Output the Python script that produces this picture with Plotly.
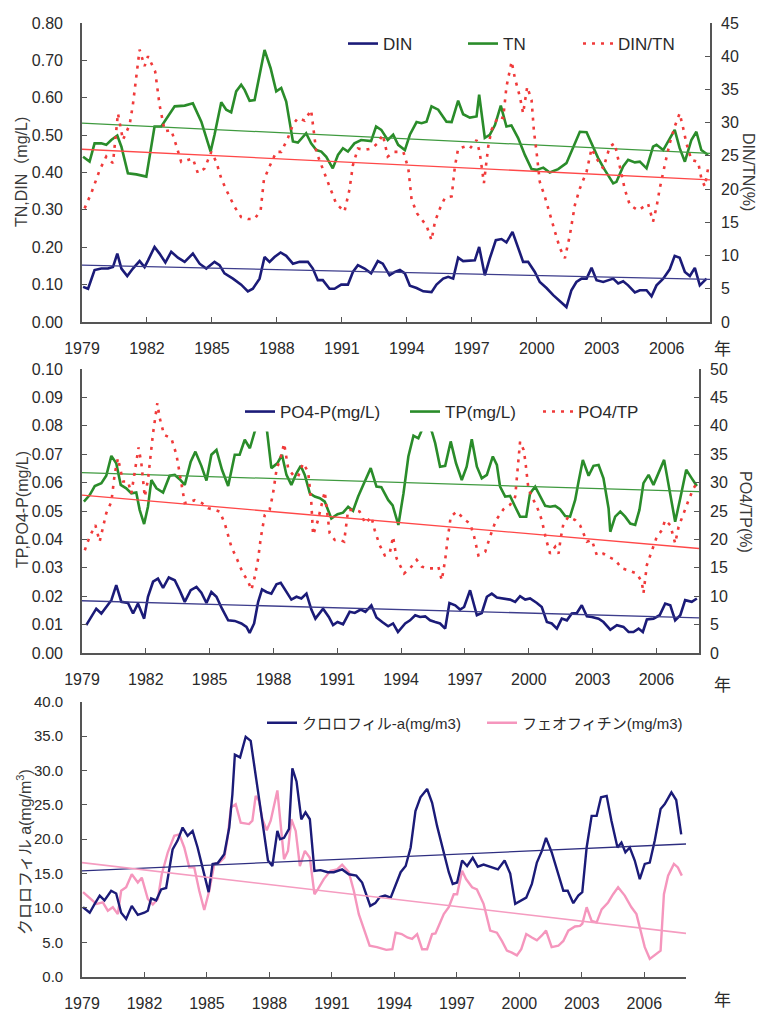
import plotly.graph_objects as go

# ---------------- Panel 1: nitrogen ----------------
din_year = [1979.05, 1979.28, 1979.58, 1979.89, 1980.2, 1980.43, 1980.63, 1980.82, 1981.09, 1981.35,
            1981.66, 1981.89, 1982.05, 1982.35, 1982.58, 1982.85, 1983.12, 1983.43, 1983.74, 1984.12,
            1984.43, 1984.74, 1985.12, 1985.35, 1985.58, 1985.97, 1986.35, 1986.66, 1986.89, 1987.2,
            1987.43, 1987.66, 1987.89, 1988.17, 1988.43, 1988.74, 1989.05, 1989.43, 1989.66, 1989.89,
            1990.12, 1990.43, 1990.66, 1990.97, 1991.28, 1991.51, 1991.74, 1992.05, 1992.35, 1992.66,
            1992.89, 1993.2, 1993.45, 1993.68, 1993.91, 1994.14, 1994.45, 1994.76, 1995.14, 1995.37,
            1995.68, 1995.91, 1996.14, 1996.37, 1996.6, 1996.91, 1997.14, 1997.34, 1997.6, 1997.83,
            1998.11, 1998.37, 1998.6, 1998.88, 1999.14, 1999.37, 1999.6, 1999.91, 2000.14, 2000.45,
            2000.76, 2001.07, 2001.37, 2001.6, 2001.83, 2002.07, 2002.3, 2002.53, 2002.76, 2003.07,
            2003.37, 2003.53, 2003.76, 2003.99, 2004.22, 2004.53, 2004.76, 2005.07, 2005.3, 2005.53,
            2005.84, 2006.14, 2006.37, 2006.6, 2006.84, 2007.07, 2007.3, 2007.53, 2007.84]
din_val = [0.094, 0.089, 0.139, 0.143, 0.143, 0.147, 0.183, 0.143, 0.123, 0.143,
           0.163, 0.147, 0.165, 0.201, 0.183, 0.159, 0.188, 0.172, 0.161, 0.183,
           0.156, 0.143, 0.161, 0.152, 0.130, 0.116, 0.100, 0.082, 0.089, 0.116,
           0.174, 0.161, 0.174, 0.186, 0.177, 0.156, 0.161, 0.161, 0.143, 0.112,
           0.112, 0.089, 0.089, 0.100, 0.100, 0.134, 0.152, 0.143, 0.130, 0.163,
           0.156, 0.125, 0.134, 0.139, 0.130, 0.097, 0.091, 0.082, 0.080, 0.100,
           0.116, 0.121, 0.116, 0.172, 0.163, 0.163, 0.165, 0.201, 0.125, 0.170,
           0.219, 0.222, 0.213, 0.241, 0.197, 0.161, 0.161, 0.134, 0.107, 0.091,
           0.072, 0.055, 0.040, 0.085, 0.107, 0.116, 0.116, 0.145, 0.112, 0.107,
           0.112, 0.116, 0.103, 0.109, 0.098, 0.079, 0.085, 0.085, 0.069, 0.098,
           0.116, 0.141, 0.177, 0.172, 0.134, 0.123, 0.145, 0.098, 0.116]

tn_year = [1979.05, 1979.35, 1979.58, 1979.89, 1980.12, 1980.35, 1980.63, 1980.82, 1981.12, 1981.51,
           1981.97, 1982.35, 1982.66, 1982.97, 1983.28, 1983.74, 1984.12, 1984.51, 1984.94, 1985.12,
           1985.43, 1985.66, 1985.89, 1986.12, 1986.35, 1986.51, 1986.74, 1986.97, 1987.43, 1987.71,
           1987.97, 1988.2, 1988.43, 1988.74, 1988.97, 1989.35, 1989.58, 1989.82, 1990.05, 1990.28,
           1990.58, 1990.82, 1991.05, 1991.28, 1991.58, 1991.89, 1992.35, 1992.58, 1992.82, 1993.12,
           1993.37, 1993.6, 1993.91, 1994.14, 1994.45, 1994.68, 1994.91, 1995.14, 1995.45, 1995.83,
           1996.07, 1996.37, 1996.6, 1996.91, 1997.22, 1997.34, 1997.6, 1997.83, 1998.07, 1998.34,
           1998.6, 1998.83, 1999.14, 1999.45, 1999.76, 1999.99, 2000.3, 2000.6, 2000.99, 2001.37,
           2001.68, 2001.99, 2002.3, 2002.53, 2002.84, 2003.14, 2003.53, 2003.68, 2003.99, 2004.22,
           2004.53, 2004.76, 2005.07, 2005.37, 2005.53, 2005.84, 2006.14, 2006.37, 2006.6, 2006.84,
           2007.14, 2007.37, 2007.6, 2007.91]
tn_val = [0.442, 0.429, 0.478, 0.478, 0.474, 0.487, 0.499, 0.469, 0.398, 0.395,
          0.389, 0.523, 0.523, 0.550, 0.577, 0.579, 0.585, 0.536, 0.456, 0.501,
          0.588, 0.568, 0.561, 0.617, 0.635, 0.621, 0.592, 0.594, 0.728, 0.679,
          0.617, 0.626, 0.590, 0.483, 0.480, 0.505, 0.478, 0.460, 0.456, 0.442,
          0.411, 0.447, 0.465, 0.456, 0.478, 0.487, 0.484, 0.523, 0.514, 0.487,
          0.501, 0.474, 0.460, 0.501, 0.535, 0.532, 0.536, 0.577, 0.568, 0.536,
          0.535, 0.592, 0.556, 0.547, 0.550, 0.608, 0.493, 0.501, 0.527, 0.579,
          0.523, 0.526, 0.492, 0.447, 0.409, 0.407, 0.413, 0.400, 0.409, 0.425,
          0.465, 0.509, 0.508, 0.478, 0.438, 0.407, 0.371, 0.375, 0.416, 0.434,
          0.427, 0.429, 0.411, 0.469, 0.474, 0.460, 0.492, 0.514, 0.465, 0.429,
          0.487, 0.509, 0.460, 0.447]

dintn_year = [1979.12, 1979.43, 1979.82, 1980.12, 1980.43, 1980.66, 1980.89, 1981.2, 1981.35, 1981.58,
              1981.66, 1981.89, 1982.05, 1982.38, 1982.58, 1982.82, 1983.12, 1983.35, 1983.58, 1983.89,
              1984.12, 1984.35, 1984.66, 1984.97, 1985.2, 1985.43, 1985.66, 1986.05, 1986.35, 1986.66,
              1986.97, 1987.25, 1987.4, 1987.66, 1987.97, 1988.2, 1988.51, 1988.74, 1988.97, 1989.28,
              1989.58, 1989.82, 1990.12, 1990.43, 1990.74, 1991.12, 1991.35, 1991.51, 1991.74, 1992.05,
              1992.35, 1992.66, 1992.89, 1993.12, 1993.4, 1993.84, 1994.07, 1994.22, 1994.48, 1994.91,
              1995.14, 1995.3, 1995.53, 1995.76, 1996.07, 1996.22, 1996.37, 1996.68, 1996.91, 1997.22,
              1997.37, 1997.56, 1997.76, 1997.91, 1998.22, 1998.45, 1998.6, 1998.84, 1998.99, 1999.22,
              1999.37, 1999.56, 1999.76, 1999.87, 1999.99, 2000.14, 2000.37, 2000.6, 2000.84, 2001.07,
              2001.3, 2001.53, 2001.76, 2001.99, 2002.3, 2002.53, 2002.76, 2003.07, 2003.37, 2003.6,
              2003.76, 2004.07, 2004.3, 2004.68, 2005.14, 2005.37, 2005.53, 2005.68, 2005.91, 2006.14,
              2006.37, 2006.6, 2006.76, 2006.91, 2007.14, 2007.45, 2007.6, 2007.76, 2007.91]
dintn_val = [17.1, 19.4, 22.9, 24.9, 23.9, 31.4, 27.4, 29.7, 32.7, 39.5,
             41.0, 38.5, 40.0, 37.7, 32.7, 28.7, 28.9, 26.6, 24.1, 24.4,
             24.6, 22.4, 23.1, 25.6, 24.1, 21.6, 19.9, 17.3, 15.8, 15.5,
             15.5, 16.8, 21.4, 23.4, 25.6, 25.6, 27.7, 29.7, 30.7, 30.3,
             31.9, 25.6, 22.9, 20.4, 17.8, 16.6, 19.9, 23.6, 26.1, 25.9,
             26.1, 26.9, 28.2, 24.9, 25.6, 25.6, 23.1, 18.4, 16.3, 14.5,
             12.3, 15.1, 17.1, 18.7, 18.9, 23.4, 26.1, 26.4, 26.1, 27.4,
             25.4, 20.9, 26.4, 28.9, 30.9, 30.7, 35.4, 39.2, 36.7, 33.9,
             31.4, 35.4, 33.4, 28.7, 25.6, 21.1, 18.9, 16.1, 13.6, 11.1,
             9.6, 13.1, 17.6, 20.1, 22.6, 26.1, 24.6, 23.1, 26.4, 26.9,
             24.4, 19.9, 17.6, 16.8, 17.8, 15.1, 17.3, 20.1, 23.6, 26.9,
             29.4, 31.4, 29.2, 26.9, 24.4, 24.1, 21.6, 20.4, 23.1]

# straight trend lines (start / end of the period)
trend_year = [1979.0, 2008.0]
din_trend = [0.152, 0.114]
tn_trend = [0.532, 0.451]
dintn_trend = [26.0, 21.4]

# ---------------- Panel 2: phosphorus ----------------
po4_year = [1979.2, 1979.44, 1979.67, 1979.91, 1980.14, 1980.38, 1980.61, 1980.85, 1981.16, 1981.4,
            1981.63, 1981.92, 1982.1, 1982.34, 1982.57, 1982.81, 1983.08, 1983.36, 1983.59, 1983.83,
            1984.11, 1984.38, 1984.61, 1984.85, 1985.08, 1985.32, 1985.58, 1985.87, 1986.18, 1986.49,
            1986.73, 1986.88, 1987.09, 1987.28, 1987.46, 1987.67, 1987.9, 1988.14, 1988.34, 1988.61,
            1988.84, 1989.08, 1989.31, 1989.55, 1989.78, 1989.97, 1990.33, 1990.6, 1990.8, 1991.01,
            1991.27, 1991.58, 1991.82, 1992.1, 1992.32, 1992.6, 1992.84, 1993.11, 1993.39, 1993.62,
            1993.85, 1994.19, 1994.42, 1994.66, 1994.89, 1995.13, 1995.36, 1995.6, 1995.83, 1996.07,
            1996.27, 1996.54, 1996.77, 1996.96, 1997.24, 1997.56, 1997.79, 1998.03, 1998.26, 1998.5,
            1998.81, 1999.12, 1999.36, 1999.59, 1999.83, 2000.06, 2000.38, 2000.61, 2000.85, 2001.08,
            2001.32, 2001.55, 2001.79, 2002.02, 2002.26, 2002.49, 2002.73, 2002.96, 2003.28, 2003.51,
            2003.83, 2004.14, 2004.45, 2004.69, 2004.92, 2005.16, 2005.36, 2005.55, 2005.86, 2006.15,
            2006.41, 2006.65, 2006.88, 2007.12, 2007.35, 2007.66, 2007.9]
po4_val = [0.0098, 0.0129, 0.0156, 0.0139, 0.0162, 0.0186, 0.0239, 0.0180, 0.0176, 0.0139,
           0.0174, 0.0121, 0.0198, 0.0251, 0.0262, 0.0229, 0.0266, 0.0256, 0.0221, 0.0180,
           0.0221, 0.0233, 0.0212, 0.0176, 0.0215, 0.0198, 0.0156, 0.0115, 0.0113, 0.0104,
           0.0092, 0.0071, 0.0104, 0.0180, 0.0224, 0.0215, 0.0209, 0.0242, 0.0247, 0.0215,
           0.0188, 0.0198, 0.0192, 0.0209, 0.0153, 0.0121, 0.0156, 0.0127, 0.0098, 0.0109,
           0.0101, 0.0145, 0.0141, 0.0153, 0.0145, 0.0168, 0.0125, 0.0109, 0.0094, 0.0104,
           0.0074, 0.0104, 0.0115, 0.0133, 0.0127, 0.0129, 0.0115, 0.0109, 0.0104, 0.0086,
           0.0176, 0.0168, 0.0153, 0.0162, 0.0221, 0.0133, 0.0141, 0.0198, 0.0209, 0.0195,
           0.0192, 0.0188, 0.0180, 0.0200, 0.0188, 0.0192, 0.0176, 0.0162, 0.0109, 0.0104,
           0.0086, 0.0121, 0.0115, 0.0139, 0.0141, 0.0168, 0.0129, 0.0127, 0.0121, 0.0109,
           0.0082, 0.0098, 0.0092, 0.0074, 0.0074, 0.0086, 0.0074, 0.0118, 0.0121, 0.0133,
           0.0174, 0.0168, 0.0115, 0.0133, 0.0186, 0.0180, 0.0192]

tp_year = [1979.09, 1979.36, 1979.6, 1979.91, 1980.14, 1980.38, 1980.61, 1980.82, 1981.08, 1981.32,
           1981.55, 1981.71, 1981.92, 1982.1, 1982.26, 1982.5, 1982.81, 1983.12, 1983.36, 1983.59,
           1983.83, 1984.11, 1984.33, 1984.61, 1984.85, 1985.08, 1985.32, 1985.58, 1985.87, 1986.18,
           1986.41, 1986.65, 1986.89, 1987.12, 1987.4, 1987.7, 1987.9, 1988.18, 1988.4, 1988.61,
           1988.84, 1989.08, 1989.28, 1989.47, 1989.71, 1989.94, 1990.18, 1990.41, 1990.72, 1991.01,
           1991.27, 1991.51, 1991.74, 1991.98, 1992.29, 1992.57, 1992.84, 1993.07, 1993.39, 1993.6,
           1993.87, 1994.11, 1994.34, 1994.58, 1994.81, 1994.97, 1995.2, 1995.44, 1995.6, 1995.83,
           1996.07, 1996.33, 1996.58, 1996.85, 1997.08, 1997.32, 1997.56, 1997.79, 1998.03, 1998.31,
           1998.5, 1998.65, 1998.89, 1999.12, 1999.36, 1999.59, 1999.88, 2000.06, 2000.3, 2000.53,
           2000.77, 2001.0, 2001.24, 2001.47, 2001.71, 2001.94, 2002.18, 2002.34, 2002.54, 2002.81,
           2003.04, 2003.28, 2003.51, 2003.75, 2003.83, 2004.06, 2004.3, 2004.53, 2004.77, 2005.0,
           2005.2, 2005.39, 2005.63, 2005.86, 2006.15, 2006.36, 2006.57, 2006.88, 2007.12, 2007.4,
           2007.66, 2007.9]
tp_val = [0.0533, 0.0556, 0.0588, 0.0598, 0.0624, 0.0694, 0.0668, 0.0592, 0.0580, 0.0562,
          0.0565, 0.0504, 0.0454, 0.0515, 0.0609, 0.0580, 0.0565, 0.0624, 0.0627, 0.0612,
          0.0592, 0.0674, 0.0709, 0.0659, 0.0607, 0.0698, 0.0715, 0.0645, 0.0588, 0.0698,
          0.0698, 0.0751, 0.0721, 0.0780, 0.0830, 0.0780, 0.0651, 0.0668, 0.0698, 0.0627,
          0.0592, 0.0633, 0.0659, 0.0627, 0.0562, 0.0551, 0.0545, 0.0533, 0.0474, 0.0489,
          0.0494, 0.0515, 0.0501, 0.0551, 0.0604, 0.0651, 0.0586, 0.0584, 0.0539, 0.0520,
          0.0451, 0.0562, 0.0692, 0.0765, 0.0756, 0.0784, 0.0810, 0.0780, 0.0739, 0.0656,
          0.0659, 0.0745, 0.0668, 0.0609, 0.0656, 0.0753, 0.0656, 0.0615, 0.0627, 0.0692,
          0.0662, 0.0586, 0.0551, 0.0553, 0.0515, 0.0480, 0.0480, 0.0562, 0.0586, 0.0551,
          0.0518, 0.0515, 0.0518, 0.0506, 0.0482, 0.0480, 0.0539, 0.0604, 0.0680, 0.0624,
          0.0659, 0.0662, 0.0615, 0.0509, 0.0427, 0.0480, 0.0498, 0.0480, 0.0456, 0.0451,
          0.0504, 0.0598, 0.0627, 0.0592, 0.0645, 0.0680, 0.0592, 0.0462, 0.0545, 0.0645,
          0.0615, 0.0588]

po4tp_year = [1979.13, 1979.36, 1979.63, 1979.83, 1980.14, 1980.38, 1980.54, 1980.69, 1980.93, 1981.16,
              1981.32, 1981.55, 1981.66, 1981.79, 1981.95, 1982.1, 1982.34, 1982.54, 1982.65, 1982.86,
              1983.2, 1983.44, 1983.59, 1983.83, 1984.06, 1984.3, 1984.64, 1984.92, 1985.24, 1985.47,
              1985.71, 1986.02, 1986.3, 1986.57, 1986.8, 1986.96, 1987.12, 1987.28, 1987.4, 1987.59,
              1987.82, 1987.98, 1988.14, 1988.37, 1988.5, 1988.69, 1988.97, 1989.16, 1989.39, 1989.63,
              1989.78, 1989.86, 1990.07, 1990.25, 1990.41, 1990.64, 1990.88, 1991.12, 1991.32, 1991.51,
              1991.79, 1992.05, 1992.32, 1992.6, 1992.76, 1992.99, 1993.23, 1993.46, 1993.62, 1993.79,
              1993.95, 1994.14, 1994.42, 1994.73, 1994.97, 1995.28, 1995.52, 1995.75, 1995.91, 1996.07,
              1996.18, 1996.33, 1996.61, 1997.01, 1997.24, 1997.43, 1997.63, 1997.95, 1998.18, 1998.46,
              1998.81, 1999.12, 1999.36, 1999.47, 1999.59, 1999.75, 1999.83, 1999.98, 2000.14, 2000.38,
              2000.61, 2000.82, 2001.0, 2001.24, 2001.4, 2001.5, 2001.63, 2001.87, 2002.18, 2002.41,
              2002.73, 2002.96, 2003.2, 2003.51, 2003.75, 2004.06, 2004.37, 2004.64, 2005.08, 2005.31,
              2005.39, 2005.55, 2005.79, 2006.02, 2006.25, 2006.41, 2006.65, 2006.88, 2007.04, 2007.27,
              2007.51, 2007.74, 2007.9]
po4tp_val = [18.1, 20.5, 22.5, 19.6, 24.6, 26.6, 31.6, 34.3, 30.2, 30.2,
             28.1, 33.7, 36.2, 33.4, 27.5, 30.5, 38.7, 44.0, 41.4, 38.4,
             37.8, 34.9, 31.6, 26.4, 26.6, 26.9, 26.4, 25.5, 25.2, 24.9,
             22.8, 18.7, 16.4, 14.0, 12.7, 11.1, 13.4, 16.6, 20.2, 24.3,
             25.2, 28.1, 32.2, 34.9, 36.9, 32.5, 31.1, 31.1, 33.4, 31.9,
             26.4, 20.8, 23.1, 25.8, 28.4, 21.1, 19.9, 19.9, 19.6, 25.2,
             25.2, 24.9, 22.8, 24.0, 21.6, 19.0, 17.2, 17.5, 20.5, 16.6,
             15.3, 14.0, 14.9, 16.4, 15.2, 14.9, 14.9, 15.2, 12.8, 16.4,
             19.9, 24.0, 24.9, 23.4, 22.8, 20.5, 17.2, 17.8, 20.5, 23.4,
             25.3, 26.1, 27.5, 31.6, 37.2, 35.8, 34.0, 29.0, 27.5, 25.8,
             23.4, 19.9, 17.5, 18.7, 17.5, 20.2, 22.8, 24.0, 23.4, 22.5,
             19.6, 19.9, 17.2, 17.5, 16.9, 16.4, 14.9, 14.6, 14.0, 12.5,
             10.5, 15.5, 18.1, 20.5, 21.6, 23.4, 22.5, 19.3, 22.2, 24.6,
             26.9, 29.0, 29.9]

po4_trend = [0.0184, 0.0124]
tp_trend = [0.0635, 0.0568]
po4tp_trend = [27.8, 18.4]

# ---------------- Panel 3: chlorophyll-a / phaeophytin ----------------
chl_year = [1979.05, 1979.37, 1979.61, 1979.85, 1980.08, 1980.4, 1980.64, 1980.88, 1981.12, 1981.39,
            1981.68, 1981.99, 1982.16, 1982.32, 1982.56, 1982.8, 1983.04, 1983.19, 1983.35, 1983.59,
            1983.83, 1984.07, 1984.31, 1984.55, 1984.79, 1985.08, 1985.27, 1985.51, 1985.83, 1986.07,
            1986.22, 1986.34, 1986.59, 1986.86, 1987.1, 1987.34, 1987.55, 1987.74, 1987.93, 1988.14,
            1988.38, 1988.51, 1988.7, 1988.94, 1989.1, 1989.3, 1989.53, 1989.73, 1989.94, 1990.16,
            1990.45, 1990.8, 1991.09, 1991.49, 1991.81, 1992.17, 1992.45, 1992.84, 1993.08, 1993.3,
            1993.55, 1993.82, 1994.06, 1994.3, 1994.54, 1994.78, 1995.01, 1995.25, 1995.57, 1995.81,
            1996.05, 1996.37, 1996.61, 1996.8, 1997.01, 1997.25, 1997.49, 1997.76, 1998.0, 1998.28,
            1998.6, 1998.97, 1999.29, 1999.56, 1999.8, 2000.04, 2000.33, 2000.6, 2000.84, 2001.08,
            2001.28, 2001.55, 2001.87, 2002.11, 2002.32, 2002.59, 2002.83, 2003.02, 2003.23, 2003.47,
            2003.71, 2003.92, 2004.19, 2004.42, 2004.71, 2004.9, 2005.09, 2005.3, 2005.54, 2005.78,
            2006.02, 2006.26, 2006.5, 2006.78, 2006.98, 2007.3, 2007.53, 2007.77]
chl_val = [10.1, 9.3, 10.6, 11.8, 11.1, 12.5, 12.1, 9.3, 8.4, 10.3,
           9.0, 9.3, 9.6, 11.4, 11.1, 12.7, 12.9, 15.9, 18.5, 19.8,
           21.7, 20.5, 21.2, 18.8, 15.9, 12.3, 16.4, 16.5, 17.8, 21.7,
           26.5, 32.3, 31.9, 34.9, 34.3, 29.2, 25.1, 20.7, 16.9, 16.1,
           21.2, 20.0, 20.2, 21.5, 30.3, 28.4, 22.9, 23.9, 22.9, 15.4,
           15.5, 15.2, 15.2, 15.6, 14.9, 14.7, 13.7, 10.3, 10.7, 11.6,
           11.8, 11.5, 13.5, 15.2, 16.1, 18.8, 24.1, 26.1, 27.3, 25.3,
           21.9, 17.8, 15.2, 13.5, 13.7, 16.9, 16.1, 17.3, 16.0, 16.3,
           16.0, 15.6, 16.9, 15.0, 10.6, 11.0, 11.5, 13.5, 16.6, 18.3,
           20.2, 18.1, 14.7, 12.5, 12.5, 10.7, 11.8, 12.3, 18.8, 23.4,
           23.4, 26.1, 26.3, 22.7, 18.8, 19.5, 18.1, 18.8, 16.9, 14.2,
           16.4, 16.6, 19.8, 24.4, 25.1, 26.8, 25.7, 20.7]

pheo_year = [1979.05, 1979.37, 1979.69, 1980.0, 1980.24, 1980.48, 1980.72, 1980.88, 1981.12, 1981.39,
             1981.68, 1981.87, 1982.16, 1982.4, 1982.64, 1982.83, 1983.12, 1983.43, 1983.67, 1983.91,
             1984.15, 1984.39, 1984.63, 1984.87, 1985.11, 1985.35, 1985.59, 1985.83, 1985.99, 1986.15,
             1986.38, 1986.62, 1987.02, 1987.18, 1987.34, 1987.5, 1987.66, 1987.87, 1988.06, 1988.38,
             1988.54, 1988.7, 1988.89, 1989.05, 1989.26, 1989.46, 1989.7, 1989.94, 1990.16, 1990.32,
             1990.61, 1990.93, 1991.25, 1991.49, 1991.81, 1992.05, 1992.29, 1992.53, 1992.81, 1993.16,
             1993.61, 1993.9, 1994.06, 1994.35, 1994.62, 1994.85, 1995.09, 1995.33, 1995.57, 1995.81,
             1995.97, 1996.13, 1996.37, 1996.61, 1996.85, 1997.01, 1997.25, 1997.44, 1997.73, 1997.96,
             1998.28, 1998.6, 1998.92, 1999.16, 1999.4, 1999.64, 1999.88, 2000.09, 2000.33, 2000.6,
             2000.84, 2001.08, 2001.28, 2001.55, 2001.87, 2002.11, 2002.35, 2002.67, 2002.91, 2003.02,
             2003.23, 2003.47, 2003.71, 2003.95, 2004.26, 2004.5, 2004.74, 2005.06, 2005.38, 2005.62,
             2005.86, 2006.02, 2006.26, 2006.47, 2006.78, 2006.94, 2007.14, 2007.42, 2007.61, 2007.8]
pheo_val = [12.3, 11.5, 10.6, 10.8, 9.6, 10.1, 9.1, 12.5, 13.0, 14.9,
            13.7, 14.4, 11.3, 10.5, 11.3, 14.9, 18.1, 20.5, 20.7, 18.8,
            15.9, 15.9, 12.5, 9.7, 12.5, 16.4, 16.6, 17.3, 20.2, 24.6,
            25.1, 22.4, 22.2, 22.7, 26.3, 25.6, 22.9, 21.3, 22.7, 27.1,
            21.7, 17.1, 18.3, 22.9, 21.2, 16.1, 18.3, 17.3, 12.0, 12.7,
            14.2, 15.4, 15.6, 16.3, 15.2, 12.5, 9.1, 6.9, 4.5, 4.3,
            3.9, 4.0, 6.4, 6.2, 5.7, 5.5, 6.2, 4.0, 4.0, 6.2,
            6.3, 7.4, 9.1, 10.1, 12.0, 12.0, 15.4, 14.2, 13.0, 12.7,
            10.6, 6.7, 6.4, 5.2, 3.8, 3.5, 3.1, 4.0, 6.2, 5.7,
            5.3, 6.0, 6.7, 4.3, 4.5, 5.2, 6.7, 7.3, 7.4, 7.7,
            10.1, 8.1, 7.9, 9.8, 10.8, 12.0, 13.0, 11.8, 10.1, 9.1,
            6.2, 4.3, 2.6, 3.1, 3.8, 12.0, 14.7, 16.4, 15.9, 14.7]

chl_trend = [15.4, 19.3]
pheo_trend = [16.6, 6.3]

year_ticks = [1979, 1982, 1985, 1988, 1991, 1994, 1997, 2000, 2003, 2006]

# ---------------- styling ----------------
W, H = 764, 1012
FONT = "Liberation Sans, Arial, sans-serif"
JFONT = "Liberation Sans, Noto Sans CJK JP, sans-serif"
NAVY = "#1b1b78"
GREEN = "#2a8c2a"
RED = "#f03a3a"
PINK = "#f596bd"
AXIS = "#555555"
TXT = "#2a2a2a"
DOT = "3px,6px"


def px_x(p):
    return p / W


def px_y(p):
    return 1 - p / H


fig = go.Figure()

# one small legend box per series so each key sits where it belongs
legend_boxes = {}


def line(x, y, color, width, xa, ya, name=None, dash=None, key=None):
    legend_id = None
    if key is not None:
        legend_id = "legend" if not legend_boxes else "legend%d" % (len(legend_boxes) + 1)
        legend_boxes[legend_id] = key
    fig.add_trace(go.Scatter(
        x=x, y=y, mode="lines", name=name, showlegend=key is not None,
        legend=legend_id, line=dict(color=color, width=width, dash=dash),
        xaxis=xa, yaxis=ya, hoverinfo="skip"))


# legend key positions in pixels: (left edge, vertical centre, font size)
# Panel 1
line(din_year, din_val, NAVY, 2.6, "x", "y", "DIN", key=(343, 44, 17))
line(tn_year, tn_val, GREEN, 2.6, "x", "y", "TN", key=(463, 44, 17))
line(trend_year, tn_trend, "#3f9a3f", 1.3, "x", "y")
line(trend_year, din_trend, "#3d3d8c", 1.3, "x", "y")
line(dintn_year, dintn_val, RED, 2.6, "x", "y2", "DIN/TN", dash=DOT, key=(578, 44, 17))
line(trend_year, dintn_trend, "#ff4848", 1.3, "x", "y2")

# Panel 2
line(po4_year, po4_val, NAVY, 2.6, "x2", "y3", "PO4-P(mg/L)", key=(240, 412, 17))
line(tp_year, tp_val, GREEN, 2.6, "x2", "y3", "TP(mg/L)", key=(405, 412, 17))
line(trend_year, tp_trend, "#3f9a3f", 1.3, "x2", "y3")
line(trend_year, po4_trend, "#3d3d8c", 1.3, "x2", "y3")
line(po4tp_year, po4tp_val, RED, 2.6, "x2", "y4", "PO4/TP", dash=DOT, key=(538, 412, 17))
line(trend_year, po4tp_trend, "#ff4848", 1.3, "x2", "y4")

# Panel 3
line(pheo_year, pheo_val, PINK, 2.4, "x3", "y5", "フェオフィチン(mg/m3)", key=(482, 723, 15))
line(chl_year, chl_val, NAVY, 2.4, "x3", "y5", "クロロフィル-a(mg/m3)", key=(262, 723, 15))
line(trend_year, chl_trend, "#2e2e80", 1.3, "x3", "y5")
line(trend_year, pheo_trend, "#f59cc0", 1.6, "x3", "y5")


def xaxis(domain, anchor, size=16):
    return dict(domain=domain, anchor=anchor, range=[1979, 2008], showline=True,
                linecolor=AXIS, linewidth=1.6, ticks="inside", ticklen=5, tickcolor=AXIS,
                tickwidth=1.4, tickvals=year_ticks, ticktext=[str(t) for t in year_ticks],
                tickfont=dict(family=FONT, size=size, color=TXT), showgrid=False,
                zeroline=False, ticklabelstandoff=11, automargin=False)


def yaxis(domain, anchor, rng, dtick, fmt, side="left", overlaying=None, size=16):
    d = dict(domain=domain, anchor=anchor, range=rng, dtick=dtick, tickformat=fmt,
             showline=True, linecolor=AXIS, linewidth=1.6, ticks="inside", ticklen=5,
             tickcolor=AXIS, tickwidth=1.4, tickfont=dict(family=FONT, size=size, color=TXT),
             showgrid=False, zeroline=False, side=side,
             ticklabelstandoff=14 if side == "left" else 6, automargin=False)
    if overlaying:
        d["overlaying"] = overlaying
    return d


d1x = [px_x(82), px_x(710)]
d2x = [px_x(82), px_x(699)]
d3x = [px_x(82), px_x(686)]
d1y = [px_y(322), px_y(23)]
d2y = [px_y(653), px_y(369)]
d3y = [px_y(976.7), px_y(701.7)]

layout = dict(
    width=W, height=H, margin=dict(l=0, r=0, t=0, b=0),
    paper_bgcolor="white", plot_bgcolor="white", showlegend=True,
    xaxis=xaxis(d1x, "y"), xaxis2=xaxis(d2x, "y3"), xaxis3=xaxis(d3x, "y5"),
    yaxis=yaxis(d1y, "x", [0, 0.8], 0.1, ".2f"),
    yaxis2=yaxis(d1y, "x", [0, 45], 5, "d", side="right", overlaying="y"),
    yaxis3=yaxis(d2y, "x2", [0, 0.1], 0.01, ".2f"),
    yaxis4=yaxis(d2y, "x2", [0, 50], 5, "d", side="right", overlaying="y3"),
    yaxis5=yaxis(d3y, "x3", [0, 40], 5, ".1f", size=15),
)
for legend_id, (lx, ly, fs) in legend_boxes.items():
    layout[legend_id] = dict(
        orientation="h", x=px_x(lx), y=px_y(ly), xanchor="left", yanchor="middle",
        bgcolor="rgba(0,0,0,0)", itemwidth=30,
        font=dict(family=JFONT, size=fs, color=TXT))
fig.update_layout(**layout)

# white frame behind the panel-1 and panel-2 legends (it masks the lines underneath)
fig.add_shape(type="rect", xref="paper", yref="paper", layer="above",
              x0=px_x(336), x1=px_x(690), y0=px_y(58), y1=px_y(30),
              fillcolor="white", line=dict(width=0))
fig.add_shape(type="rect", xref="paper", yref="paper", layer="above",
              x0=px_x(230), x1=px_x(655), y0=px_y(431.5), y1=px_y(394),
              fillcolor="white", line=dict(width=0))

# axis titles and the year unit
ann = [
    ("TN,DIN（mg/L)", 21, 172, -90, 16),
    ("DIN/TN(%)", 749, 172, 90, 16),
    ("TP,PO4-P(mg/L)", 22, 510, -90, 16),
    ("PO4/TP(%)", 745, 512, 90, 16),
    ("クロロフィル a(mg/m<sup>3</sup>)", 24, 852, -90, 16),
]
for text, x, y, ang, fs in ann:
    fig.add_annotation(text=text, x=px_x(x), y=px_y(y), xref="paper", yref="paper",
                       showarrow=False, textangle=ang, xanchor="center", yanchor="middle",
                       font=dict(family=JFONT, size=fs, color="#3a3a3a"))
for y in (347, 683, 998):
    fig.add_annotation(text="年", x=px_x(722), y=px_y(y), xref="paper", yref="paper",
                       showarrow=False, xanchor="center", yanchor="middle",
                       font=dict(family="Noto Sans CJK JP", size=17, color=TXT))

fig.write_html("out.html")
